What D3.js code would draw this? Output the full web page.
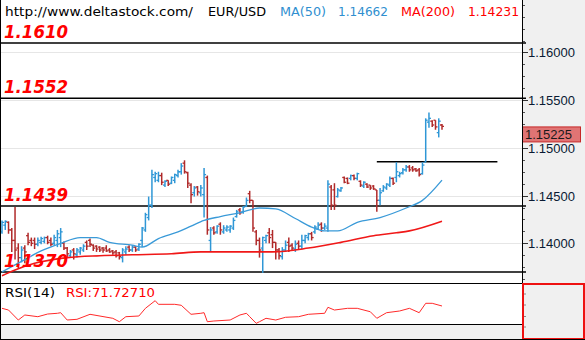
<!DOCTYPE html>
<html>
<head>
<meta charset="utf-8">
<script src="https://cdn.jsdelivr.net/npm/d3@7"></script>
<style>
  html, body { margin: 0; padding: 0; background: #fff; }
  svg { display: block; }
</style>
</head>
<body>
<svg id="chart" width="585" height="340"></svg>
<script>
// EUR/USD OHLC bars with MA(50), MA(200), support/resistance levels and RSI(14)

const opens = [
1.1412,1.1419,1.1422,1.1414,1.1403,1.1395,1.1385,1.1395,1.1408,1.1403,
1.1403,1.1399,1.1401,1.1402,1.1406,1.1403,1.1400,1.1403,1.1406,1.1400,
1.1395,1.1387,1.1393,1.1388,1.1391,1.1393,1.1401,1.1403,1.1398,1.1397,
1.1396,1.1395,1.1395,1.1393,1.1392,1.1391,1.1390,1.1385,1.1391,1.1396,
1.1393,1.1396,1.1394,1.1403,1.1414,1.1427,1.1440,1.1469,1.1466,1.1471,
1.1461,1.1466,1.1463,1.1466,1.1471,1.1475,1.1484,1.1474,1.1461,1.1453,
1.1459,1.1453,1.1451,1.1469,1.1403,1.1416,1.1412,1.1420,1.1412,1.1414,
1.1414,1.1416,1.1428,1.1435,1.1433,1.1439,1.1452,1.1445,1.1412,1.1403,
1.1395,1.1403,1.1411,1.1409,1.1401,1.1393,1.1386,1.1393,1.1401,1.1398,
1.1394,1.1400,1.1397,1.1403,1.1406,1.1410,1.1412,1.1415,1.1420,1.1416,
1.1416,1.1459,1.1456,1.1449,1.1455,1.1469,1.1468,1.1468,1.1471,1.1468,
1.1465,1.1460,1.1462,1.1461,1.1460,1.1456,1.1445,1.1455,1.1458,1.1461,
1.1468,1.1469,1.1471,1.1474,1.1477,1.1480,1.1479,1.1478,1.1477,1.1473,
1.1485,1.1527,1.1528,1.1529,1.1516,1.1524
];
const highs = [
1.1424,1.1424,1.1423,1.1416,1.1438,1.1400,1.1397,1.1398,1.1411,1.1406,
1.1406,1.1406,1.1407,1.1407,1.1408,1.1406,1.1409,1.1414,1.1416,1.1402,
1.1396,1.1393,1.1395,1.1395,1.1396,1.1399,1.1403,1.1405,1.1399,1.1398,
1.1397,1.1396,1.1398,1.1395,1.1393,1.1393,1.1391,1.1395,1.1397,1.1398,
1.1398,1.1397,1.1400,1.1417,1.1432,1.1449,1.1477,1.1475,1.1475,1.1474,
1.1466,1.1466,1.1470,1.1473,1.1477,1.1484,1.1487,1.1475,1.1463,1.1460,
1.1460,1.1461,1.1479,1.1471,1.1417,1.1418,1.1419,1.1422,1.1419,1.1419,
1.1419,1.1427,1.1435,1.1437,1.1439,1.1448,1.1455,1.1445,1.1414,1.1406,
1.1407,1.1409,1.1416,1.1414,1.1401,1.1395,1.1396,1.1403,1.1406,1.1400,
1.1403,1.1403,1.1409,1.1409,1.1411,1.1412,1.1419,1.1422,1.1422,1.1421,
1.1466,1.1461,1.1463,1.1458,1.1459,1.1470,1.1469,1.1472,1.1472,1.1474,
1.1466,1.1465,1.1463,1.1461,1.1461,1.1456,1.1458,1.1461,1.1463,1.1470,
1.1469,1.1485,1.1475,1.1479,1.1482,1.1482,1.1481,1.1479,1.1479,1.1485,
1.1531,1.1537,1.1529,1.1529,1.1531,1.1525
];
const lows = [
1.1410,1.1414,1.1410,1.1391,1.1383,1.1374,1.1380,1.1379,1.1398,1.1397,
1.1394,1.1397,1.1399,1.1400,1.1399,1.1397,1.1398,1.1396,1.1396,1.1393,
1.1385,1.1385,1.1383,1.1385,1.1388,1.1391,1.1393,1.1396,1.1392,1.1391,
1.1391,1.1390,1.1391,1.1390,1.1388,1.1385,1.1383,1.1380,1.1388,1.1391,
1.1391,1.1391,1.1392,1.1396,1.1412,1.1424,1.1437,1.1464,1.1464,1.1461,
1.1459,1.1460,1.1462,1.1463,1.1469,1.1472,1.1473,1.1458,1.1442,1.1449,
1.1450,1.1449,1.1427,1.1409,1.1391,1.1409,1.1410,1.1409,1.1410,1.1412,
1.1411,1.1414,1.1427,1.1430,1.1431,1.1438,1.1442,1.1412,1.1398,1.1385,
1.1369,1.1400,1.1400,1.1395,1.1383,1.1383,1.1383,1.1391,1.1391,1.1393,
1.1391,1.1393,1.1394,1.1400,1.1403,1.1403,1.1410,1.1414,1.1412,1.1414,
1.1412,1.1435,1.1435,1.1448,1.1454,1.1463,1.1462,1.1466,1.1466,1.1466,
1.1459,1.1458,1.1458,1.1456,1.1456,1.1433,1.1440,1.1454,1.1456,1.1459,
1.1461,1.1464,1.1469,1.1472,1.1475,1.1475,1.1475,1.1475,1.1470,1.1472,
1.1485,1.1521,1.1522,1.1519,1.1511,1.1519
];
const closes = [
1.1422,1.1423,1.1414,1.1403,1.1393,1.1385,1.1393,1.1391,1.1401,1.1400,
1.1399,1.1403,1.1405,1.1406,1.1401,1.1399,1.1406,1.1410,1.1412,1.1395,
1.1389,1.1391,1.1389,1.1393,1.1395,1.1397,1.1397,1.1399,1.1395,1.1394,
1.1393,1.1393,1.1392,1.1391,1.1390,1.1387,1.1386,1.1393,1.1394,1.1393,
1.1396,1.1393,1.1399,1.1416,1.1430,1.1440,1.1472,1.1473,1.1471,1.1464,
1.1465,1.1462,1.1469,1.1472,1.1475,1.1481,1.1475,1.1463,1.1451,1.1458,
1.1454,1.1458,1.1472,1.1414,1.1414,1.1411,1.1418,1.1414,1.1416,1.1417,
1.1418,1.1424,1.1433,1.1432,1.1438,1.1445,1.1445,1.1416,1.1403,1.1393,
1.1406,1.1408,1.1406,1.1401,1.1393,1.1387,1.1393,1.1398,1.1397,1.1395,
1.1399,1.1397,1.1403,1.1408,1.1410,1.1406,1.1417,1.1419,1.1416,1.1418,
1.1462,1.1440,1.1440,1.1456,1.1458,1.1464,1.1463,1.1471,1.1468,1.1473,
1.1461,1.1464,1.1459,1.1458,1.1457,1.1445,1.1453,1.1459,1.1462,1.1468,
1.1463,1.1475,1.1473,1.1477,1.1480,1.1477,1.1477,1.1476,1.1472,1.1482,
1.1529,1.1531,1.1524,1.1522,1.1528,1.15225
];

// Moving averages, sampled at bar indices
const ma50Idx = [0,6,12,18,24,29,33,40,43,48,54,58,62,67,73,79,84,90,95,99,103,109,116,124,129,135];
const ma50Val = [1.1370,1.1381,1.1392,1.1400,1.1406,1.1406,1.1401,1.1398,1.1396,1.1405,1.1412,1.1418,1.1424,1.1428,1.1432,1.1437,1.1436,1.1426,1.1417,1.1413,1.1413,1.1422,1.1427,1.1437,1.1445,1.14662];
const ma200Idx = [0,4,10,20,30,40,52,61,73,83,94,104,114,121,125,135];
const ma200Val = [1.1366,1.1372,1.1379,1.1385,1.1387,1.1388,1.1389,1.1391,1.1391,1.1391,1.1395,1.1401,1.1408,1.1411,1.1413,1.14231];

// RSI(14), sampled at bar indices
const rsiIdx = [0,2,5,7,11,14,17,18,20,23,27,34,36,38,42,44,47,48,53,55,58,61,62,63,65,70,73,75,76,78,79,81,84,87,91,94,99,100,102,106,109,113,115,118,122,125,128,130,132,135];
const rsiVal = [66.7,63,41.3,52.2,48.5,54.3,55.9,57.2,41.3,42.8,53.7,45,37.6,48.5,50,66.7,83.3,75.4,75.4,73.3,53.7,55.9,57.2,37.6,39.1,41.3,52.2,55.9,48.5,34.1,37.6,45,41.3,47.2,48.5,53.7,55.9,68.9,63,66.7,66.7,59.3,45,57.2,60.9,66.7,57.2,77.6,77.6,71.7271];

// Horizontal price levels
const levelPrices = [1.1610, 1.1552, 1.1439, 1.1370];
const levelLabels = ["1.1610", "1.1552", "1.1439", "1.1370"];
const shortLevel = { price: 1.14855, from: 115, to: 152 };

const axisTicks = [1.14, 1.145, 1.15, 1.155, 1.16];
const lastPrice = 1.15225;
const ma50Last = "1.14662", ma200Last = "1.14231", rsiLast = "71.72710";

const W = 585, H = 340;
const plotR = 522, mainTop = 0, mainBot = 283, rsiTop = 283, rsiBot = 324;

const svg = d3.select("#chart");
const x = d3.scaleLinear().domain([0, closes.length - 1]).range([2, 442]);
const y = d3.scaleLinear().domain([1.13584, 1.16550]).range([mainBot, mainTop]);
const yR = d3.scaleLinear().domain([0, 100]).range([339, 293]);

const BLUE = "#2f97d6", RED = "#b02a2a";
const uiFont = "Verdana, 'DejaVu Sans', sans-serif";

// backgrounds
svg.append("rect").attr("width", W).attr("height", H).attr("fill", "#fff");
svg.append("rect").attr("x", plotR).attr("y", 0).attr("width", W - plotR).attr("height", H).attr("fill", "#f0f0f0");
svg.append("rect").attr("x", 0).attr("y", rsiBot).attr("width", W).attr("height", H - rsiBot).attr("fill", "#f0f0f0");

svg.append("defs").append("clipPath").attr("id", "mainClip")
  .append("rect").attr("x", 0).attr("y", mainTop).attr("width", plotR).attr("height", mainBot - mainTop);
svg.select("defs").append("clipPath").attr("id", "rsiClip")
  .append("rect").attr("x", 0).attr("y", rsiTop).attr("width", plotR).attr("height", rsiBot - rsiTop);

// grid
svg.append("g").selectAll("line").data(axisTicks).join("line")
  .attr("x1", 0).attr("x2", plotR)
  .attr("y1", d => Math.round(y(d)) + 0.5).attr("y2", d => Math.round(y(d)) + 0.5)
  .attr("stroke", "#e6e6e6").attr("stroke-width", 1);

// price levels
svg.append("g").selectAll("line").data(levelPrices).join("line")
  .attr("x1", 0).attr("x2", plotR + 4)
  .attr("y1", d => y(d)).attr("y2", d => y(d))
  .attr("stroke", "#000").attr("stroke-width", 1.5);
svg.append("line")
  .attr("x1", x(shortLevel.from)).attr("x2", x(shortLevel.to))
  .attr("y1", y(shortLevel.price)).attr("y2", y(shortLevel.price))
  .attr("stroke", "#000").attr("stroke-width", 1.5);

// OHLC bars
const main = svg.append("g").attr("clip-path", "url(#mainClip)");
const idx = d3.range(closes.length);
const barG = main.append("g").selectAll("g").data(idx).join("g")
  .attr("stroke", i => closes[i] >= opens[i] ? BLUE : RED);
barG.append("line")
  .attr("x1", i => x(i)).attr("x2", i => x(i))
  .attr("y1", i => y(highs[i])).attr("y2", i => y(lows[i]))
  .attr("stroke-width", 1.5);
barG.append("line")
  .attr("x1", i => x(i) - 2).attr("x2", i => x(i))
  .attr("y1", i => y(opens[i])).attr("y2", i => y(opens[i]))
  .attr("stroke-width", 1.3);
barG.append("line")
  .attr("x1", i => x(i)).attr("x2", i => x(i) + 2)
  .attr("y1", i => y(closes[i])).attr("y2", i => y(closes[i]))
  .attr("stroke-width", 1.3);

// moving averages
const maLine = d3.line().x(d => x(d[0])).y(d => y(d[1])).curve(d3.curveMonotoneX);
main.append("path").datum(d3.zip(ma200Idx, ma200Val)).attr("d", maLine)
  .attr("fill", "none").attr("stroke", "#f01818").attr("stroke-width", 1.6);
main.append("path").datum(d3.zip(ma50Idx, ma50Val)).attr("d", maLine)
  .attr("fill", "none").attr("stroke", "#3a9ad8").attr("stroke-width", 1.3);

// level labels
svg.append("g").selectAll("text").data(levelPrices).join("text")
  .attr("x", 4).attr("y", d => y(d) - 5)
  .attr("font-family", "'DejaVu Sans', Verdana, sans-serif")
  .attr("font-weight", "bold").attr("font-style", "italic")
  .attr("font-size", 17).attr("fill", "#ff0000")
  .attr("textLength", 64).attr("lengthAdjust", "spacingAndGlyphs")
  .text((d, i) => levelLabels[i]);

// header
const headerItems = [
  { x: 5,   w: 188, c: "#000",    t: "http://www.deltastock.com/" },
  { x: 208, w: 58,  c: "#000",    t: "EUR/USD" },
  { x: 280, w: 46,  c: "#2f8fd0", t: "MA(50)" },
  { x: 338, w: 50,  c: "#2f8fd0", t: ma50Last },
  { x: 401, w: 54,  c: "#ff0000", t: "MA(200)" },
  { x: 468, w: 51,  c: "#ff0000", t: ma200Last }
];
svg.append("g").selectAll("text").data(headerItems).join("text")
  .attr("x", d => d.x).attr("y", 16)
  .attr("font-family", uiFont).attr("font-size", 13)
  .attr("fill", d => d.c)
  .attr("textLength", d => d.w).attr("lengthAdjust", "spacingAndGlyphs")
  .text(d => d.t);

// right price axis
const minor = d3.range(1.13625, 1.1655, 0.00125);
svg.append("g").selectAll("line").data(minor).join("line")
  .attr("x1", plotR).attr("x2", plotR + 3)
  .attr("y1", d => Math.round(y(d)) + 0.5).attr("y2", d => Math.round(y(d)) + 0.5)
  .attr("stroke", "#555");
const axisG = svg.append("g").selectAll("g").data(axisTicks).join("g")
  .attr("transform", d => `translate(0,${Math.round(y(d)) + 0.5})`);
axisG.append("line").attr("x1", plotR).attr("x2", plotR + 6).attr("stroke", "#333");
axisG.append("text").attr("x", plotR + 6).attr("dy", "0.35em")
  .attr("font-family", "Arial, 'Liberation Sans', sans-serif").attr("font-size", 13)
  .attr("fill", "#0a1a33").text(d => d.toFixed(5));

// last price marker
const ly = y(lastPrice);
svg.append("rect").attr("x", plotR + 0.5).attr("y", ly + 0.5).attr("width", 58).attr("height", 15)
  .attr("fill", "#e07474").attr("stroke", "#c62828");
svg.append("text").attr("x", plotR + 3).attr("y", ly + 8).attr("dy", "0.35em")
  .attr("font-family", "Arial, 'Liberation Sans', sans-serif").attr("font-size", 13)
  .attr("fill", "#1a1a1a").text(lastPrice.toFixed(5));

// RSI panel
svg.append("path").datum(d3.zip(rsiIdx, rsiVal)).attr("clip-path", "url(#rsiClip)")
  .attr("d", d3.line().x(d => x(d[0])).y(d => yR(d[1])))
  .attr("fill", "none").attr("stroke", "#ff2a2a").attr("stroke-width", 1);
const rsiItems = [
  { x: 5,  w: 50, c: "#000",    t: "RSI(14)" },
  { x: 66, w: 89, c: "#ff0000", t: "RSI:" + rsiLast }
];
svg.append("g").selectAll("text").data(rsiItems).join("text")
  .attr("x", d => d.x).attr("y", 297)
  .attr("font-family", uiFont).attr("font-size", 13)
  .attr("fill", d => d.c)
  .attr("textLength", d => d.w).attr("lengthAdjust", "spacingAndGlyphs")
  .text(d => d.t);

// RSI axis box
svg.append("g").selectAll("line").data([294, 305, 316.5, 327]).join("line")
  .attr("x1", plotR).attr("x2", plotR + 4).attr("y1", d => d).attr("y2", d => d)
  .attr("stroke", "#888");
svg.append("rect").attr("x", plotR + 1).attr("y", rsiTop + 1).attr("width", W - plotR - 2).attr("height", H - rsiTop - 2)
  .attr("fill", "none").attr("stroke", "#ee1111").attr("stroke-width", 2);

// frame lines
const frame = svg.append("g").attr("stroke", "#000").attr("stroke-width", 1);
frame.append("line").attr("x1", 0).attr("x2", plotR).attr("y1", rsiTop + 0.5).attr("y2", rsiTop + 0.5);
frame.append("line").attr("x1", 0).attr("x2", plotR).attr("y1", rsiBot + 0.5).attr("y2", rsiBot + 0.5);
frame.append("line").attr("x1", plotR + 0.5).attr("x2", plotR + 0.5).attr("y1", 0).attr("y2", rsiTop);
frame.append("line").attr("x1", 0.5).attr("x2", 0.5).attr("y1", 0).attr("y2", H);
frame.append("line").attr("x1", 0).attr("x2", W).attr("y1", H - 0.5).attr("y2", H - 0.5);
</script>
</body>
</html>
